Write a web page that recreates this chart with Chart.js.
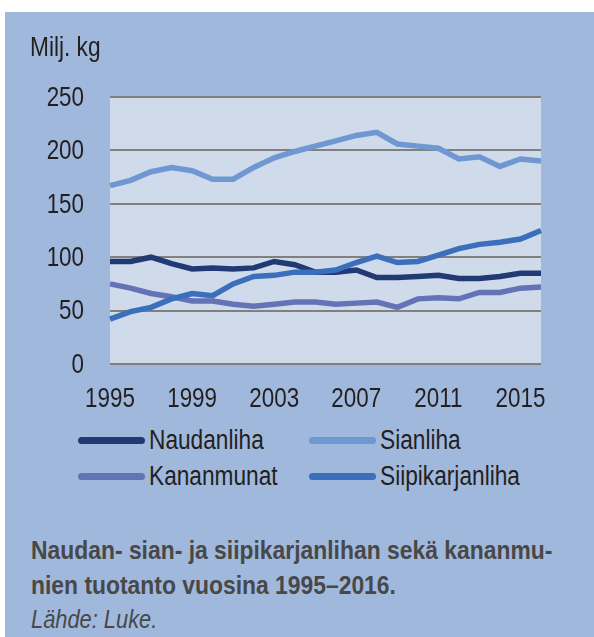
<!DOCTYPE html>
<html lang="fi">
<head>
  <meta charset="utf-8">
  <title>Lihan ja kananmunien tuotanto</title>
  <script src="https://cdn.jsdelivr.net/npm/chart.js@4"></script>
  <style>
    body { margin: 0; background: #fff; font-family: 'Liberation Sans', Arial, sans-serif; color: #231f20; }
    #panel { position: absolute; left: 5px; top: 12px; width: 589px; height: 625px; background: #a0b8dc; }
    #wrap { position: absolute; left: 0; top: 0; width: 594px; height: 420px; }
    .narrow { display: inline-block; white-space: nowrap; transform-origin: left center; }
    #unit { position: absolute; left: 30px; top: 31px; font-size: 28px; }
    #unit .narrow { transform: scaleX(0.81); }
    #legend { position: absolute; left: 0; top: 425px; width: 594px; }
    .item { position: absolute; display: flex; align-items: center; font-size: 27px; white-space: nowrap; }
    .item .narrow { transform: scaleX(0.84); }
    .item span.line { display: inline-block; width: 67px; height: 7px; border-radius: 3.5px; margin-right: 4px; }
    #caption { position: absolute; left: 31px; top: 533px; font-size: 26px; color: #484848; line-height: 34.5px; }
    #caption b .narrow { transform: scaleX(0.88); }
    #caption i .narrow { transform: scaleX(0.84); }
  </style>
</head>
<body>
  <div id="panel"></div>
  <div id="wrap"><canvas id="chart" width="594" height="420"></canvas></div>
  <div id="unit"><span class="narrow">Milj. kg</span></div>
  <div id="legend"></div>
  <div id="caption">
    <b><span class="narrow">Naudan- sian- ja siipikarjanlihan sekä kananmu-</span></b><br>
    <b><span class="narrow">nien tuotanto vuosina 1995–2016.</span></b><br>
    <i><span class="narrow">Lähde: Luke.</span></i>
  </div>

  <script>
    // vuodet 1995-2016
    var years = [];
    for (var y = 1995; y <= 2016; y++) years.push(String(y));

    var seriesNames = ['Naudanliha', 'Sianliha', 'Kananmunat', 'Siipikarjanliha'];
    var seriesColors = ['#213a74', '#6f97d1', '#6473b5', '#3b6fbb'];

    var naudanliha = [96, 96, 100, 94, 89, 90, 89, 90, 96, 93, 86, 86, 88, 81, 81, 82, 83, 80, 80, 82, 85, 85];
    var sianliha = [167, 172, 180, 184, 181, 173, 173, 184, 193, 199, 204, 209, 214, 217, 206, 204, 202, 192, 194, 185, 192, 190];
    var kananmunat = [75, 71, 66, 63, 59, 59, 56, 54, 56, 58, 58, 56, 57, 58, 53, 61, 62, 61, 67, 67, 71, 72];
    var siipikarjanliha = [42, 49, 53, 61, 66, 64, 75, 82, 83, 86, 86, 88, 95, 101, 95, 96, 102, 108, 112, 114, 117, 125];

    var yTicks = [0, 50, 100, 150, 200, 250];
    var xTickEvery = 4;

    var plotBg = {
      id: 'plotBg',
      beforeDraw: function (chart) {
        var a = chart.chartArea, ctx = chart.ctx;
        ctx.save();
        ctx.fillStyle = '#cfdbea';
        ctx.fillRect(a.left, a.top, a.right - a.left, a.bottom - a.top);
        ctx.restore();
      }
    };

    // kapeat akselitekstit (Arial Narrow -tyyli), paikat skaaloilta
    var narrowTicks = {
      id: 'narrowTicks',
      afterDraw: function (chart) {
        var ctx = chart.ctx, xs = chart.scales.x, ys = chart.scales.y;
        ctx.save();
        ctx.font = "28px 'Liberation Sans', Arial, sans-serif";
        ctx.fillStyle = '#231f20';
        ctx.textBaseline = 'middle';
        yTicks.forEach(function (v) {
          ctx.save();
          ctx.translate(ys.right - 26, ys.getPixelForValue(v) + 1);
          ctx.scale(0.8, 1);
          ctx.textAlign = 'right';
          ctx.fillText(String(v), 0, 0);
          ctx.restore();
        });
        years.forEach(function (yr, i) {
          if (i % xTickEvery !== 0) return;
          ctx.save();
          ctx.translate(xs.getPixelForValue(i), xs.top + 35.5);
          ctx.scale(0.8, 1);
          ctx.textAlign = 'center';
          ctx.fillText(yr, 0, 0);
          ctx.restore();
        });
        ctx.restore();
      }
    };

    var allData = [naudanliha, sianliha, kananmunat, siipikarjanliha];
    var drawOrder = [2, 4, 3, 1];
    var datasets = seriesNames.map(function (name, i) {
      return {
        label: name,
        data: allData[i],
        borderColor: seriesColors[i],
        backgroundColor: seriesColors[i],
        borderWidth: 5.5,
        pointRadius: 0,
        tension: 0,
        fill: false,
        order: drawOrder[i]
      };
    });

    new Chart(document.getElementById('chart').getContext('2d'), {
      type: 'line',
      data: { labels: years, datasets: datasets },
      options: {
        responsive: false,
        devicePixelRatio: 1,
        animation: false,
        layout: { padding: { left: 0, right: 53, top: 97, bottom: 0 } },
        plugins: { legend: { display: false }, tooltip: { enabled: false } },
        scales: {
          x: {
            grid: { display: false, drawTicks: false },
            border: { display: false },
            ticks: { display: false, autoSkip: false },
            afterFit: function (s) { s.height = 56; }
          },
          y: {
            min: 0,
            max: 250,
            afterBuildTicks: function (s) { s.ticks = yTicks.map(function (v) { return { value: v }; }); },
            grid: { color: '#808080', lineWidth: 2, drawTicks: false },
            border: { display: false },
            ticks: { display: false },
            afterFit: function (s) { s.width = 110; }
          }
        }
      },
      plugins: [plotBg, narrowTicks]
    });

    // selite kahteen sarakkeeseen
    var legendPos = [[78, 0], [309, 0], [78, 36], [309, 36]];
    var legend = document.getElementById('legend');
    seriesNames.forEach(function (name, i) {
      var d = document.createElement('div');
      d.className = 'item';
      d.style.left = legendPos[i][0] + 'px';
      d.style.top = legendPos[i][1] + 'px';
      d.innerHTML = '<span class="line" style="background:' + seriesColors[i] + '"></span><span class="narrow">' + name + '</span>';
      legend.appendChild(d);
    });
  </script>
</body>
</html>
